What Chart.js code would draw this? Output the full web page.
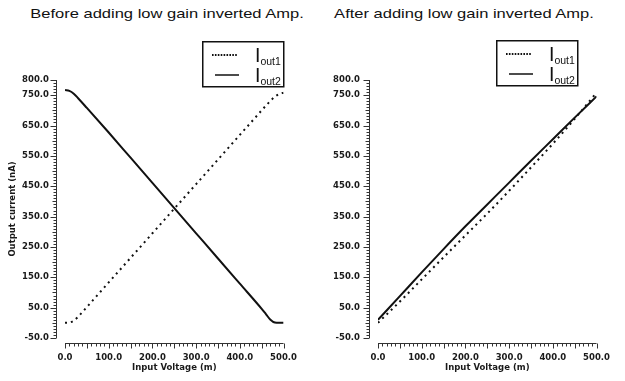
<!DOCTYPE html>
<html>
<head>
<meta charset="utf-8">
<script src="https://cdn.jsdelivr.net/npm/chart.js@4.4.1/dist/chart.umd.min.js"></script>
<style>
  body { margin: 0; width: 625px; height: 381px; overflow: hidden; background: #fff; position: relative; }
  canvas { position: absolute; top: 0; }
  #leftChart { left: 0; }
  #rightChart { left: 312px; }
  #axes { position: absolute; left: 0; top: 0; pointer-events: none; }
  .title {
    position: absolute; top: 7px; width: 320px; text-align: center;
    font-family: 'Liberation Sans', Arial, sans-serif; font-size: 13px; line-height: 13px;
    color: #111; transform: scaleX(1.27); white-space: nowrap;
  }
  .legend { position: absolute; }
  .legend text { font-family: 'Liberation Sans', Arial, sans-serif; fill: #111; }
</style>
</head>
<body>
<div class="title" style="left:7px">Before adding low gain inverted Amp.</div>
<div class="title" style="left:304px">After adding low gain inverted Amp.</div>
<canvas id="leftChart" width="312" height="381"></canvas>
<canvas id="rightChart" width="313" height="381"></canvas>
<svg id="axes" width="625" height="381" xmlns="http://www.w3.org/2000/svg"></svg>

<svg class="legend" style="left:202px;top:41px" width="84" height="48">
  <rect x="0.75" y="0.75" width="81" height="45" fill="#fff" stroke="#111" stroke-width="1.5"/>
  <line x1="10" y1="14" x2="36" y2="14" stroke="#111" stroke-width="1.8" stroke-dasharray="1.6 1.3"/>
  <line x1="13" y1="34" x2="37" y2="34" stroke="#111" stroke-width="1.5"/>
  <text x="53" y="21" font-size="19.5">I<tspan font-size="10.5" dy="2.5">out1</tspan></text>
  <text x="53" y="41" font-size="19.5">I<tspan font-size="10.5" dy="2.5">out2</tspan></text>
</svg>
<svg class="legend" style="left:496px;top:40px" width="84" height="48">
  <rect x="0.75" y="0.75" width="81" height="45" fill="#fff" stroke="#111" stroke-width="1.5"/>
  <line x1="10" y1="14" x2="36" y2="14" stroke="#111" stroke-width="1.8" stroke-dasharray="1.6 1.3"/>
  <line x1="13" y1="34" x2="37" y2="34" stroke="#111" stroke-width="1.5"/>
  <text x="53" y="21" font-size="19.5">I<tspan font-size="10.5" dy="2.5">out1</tspan></text>
  <text x="53" y="41" font-size="19.5">I<tspan font-size="10.5" dy="2.5">out2</tspan></text>
</svg>

<script>
// Input voltage (m) sample points
const voltsBefore = [0, 10, 20, 30, 50, 100, 150, 200, 250, 300, 350, 400, 450, 460, 470, 480, 490, 500];
// Before adding low gain inverted Amp. (nA)
const iout1Before = [0, 1, 7, 20, 52, 133, 214, 295, 376, 457, 538, 619, 700, 716, 731, 745, 754, 758];
const iout2Before = [767, 764, 755, 740, 708, 627, 544, 461, 378, 295, 212, 129, 46, 28, 10, 1, 0, 0];

const voltsAfter = [0, 50, 100, 150, 200, 250, 300, 350, 400, 450, 500];
// After adding low gain inverted Amp. (nA)
const iout1After = [0, 70, 143, 216, 288, 360, 435, 512, 590, 672, 758];
const iout2After = [10, 88, 166, 243, 318, 390, 462, 534, 605, 676, 746];

const yMin = -50;
const yMax = 800;
const xMin = 0;
const xMax = 500;

const tickFont = { family: 'DejaVu Sans', size: 8.5, weight: 'bold' };
const inkColor = '#1a1a1a';

function isLabelY(v) {
  return v === yMax || (v + 50) % 100 === 0;
}

function makeChart(canvasId, volts, iout1, iout2, opts) {
  const ctx = document.getElementById(canvasId).getContext('2d');
  return new Chart(ctx, {
    type: 'line',
    data: {
      datasets: [
        {
          label: 'Iout1',
          data: volts.map((v, i) => ({ x: v, y: iout1[i] })),
          borderColor: '#111',
          borderWidth: 2,
          borderDash: [2, 4],
          pointRadius: 0,
          cubicInterpolationMode: 'monotone',
        },
        {
          label: 'Iout2',
          data: volts.map((v, i) => ({ x: v, y: iout2[i] })),
          borderColor: '#111',
          borderWidth: 2,
          pointRadius: 0,
          cubicInterpolationMode: 'monotone',
        },
      ],
    },
    options: {
      responsive: false,
      animation: false,
      devicePixelRatio: 1,
      layout: {
        padding: { left: 0, right: opts.rightPad, top: 80, bottom: 7 },
      },
      plugins: {
        legend: { display: false },
        title: { display: false },
        tooltip: { enabled: false },
      },
      scales: {
        x: {
          type: 'linear',
          min: xMin,
          max: xMax,
          grid: { display: false, drawTicks: false },
          border: { display: false },
          afterFit: (scale) => { scale.height = 36; },
          ticks: {
            stepSize: 100,
            maxRotation: 0,
            padding: 15,
            color: inkColor,
            font: tickFont,
            callback: (v) => v.toFixed(1),
          },
          title: {
            display: true,
            text: 'Input Voltage (m)',
            color: inkColor,
            font: tickFont,
            padding: { top: 0, bottom: 1 },
          },
        },
        y: {
          type: 'linear',
          min: yMin,
          max: yMax,
          grid: { display: false, drawTicks: false },
          border: { display: false },
          afterFit: (scale) => { scale.width = opts.axisWidth; },
          ticks: {
            stepSize: 10,
            autoSkip: false,
            maxTicksLimit: 1000,
            padding: opts.labelPad,
            color: inkColor,
            font: tickFont,
            callback: (v) => (isLabelY(v) ? v.toFixed(1) : ''),
          },
          title: {
            display: opts.showYTitle,
            text: 'Output current (nA)',
            color: inkColor,
            font: tickFont,
            padding: { top: 8, bottom: 0 },
          },
        },
      },
    },
  });
}

// offset axis lines with major / minor ticks, built as svg paths from the chart scales
function drawAxes(chart, offsetX) {
  const area = chart.chartArea;
  const xs = chart.scales.x;
  const ys = chart.scales.y;
  let d = '';

  const ax = Math.round(area.left - 9 + offsetX) + 0.5;
  d += `M${ax} ${ys.getPixelForValue(yMin)}V${ys.getPixelForValue(yMax)}`;
  for (let v = yMin; v <= yMax; v += 10) {
    const p = Math.round(ys.getPixelForValue(v)) + 0.5;
    let len = 3;
    if (isLabelY(v)) len = 6;
    else if (v % 50 === 0) len = 4;
    d += `M${ax} ${p}h${-len}`;
  }

  const ay = Math.round(area.bottom + 5) + 0.5;
  d += `M${xs.getPixelForValue(xMin) + offsetX} ${ay}H${xs.getPixelForValue(xMax) + offsetX}`;
  for (let v = xMin; v <= xMax; v += 10) {
    const p = Math.round(xs.getPixelForValue(v) + offsetX) + 0.5;
    const len = v % 50 === 0 ? 5 : 3;
    d += `M${p} ${ay}v${len}`;
  }

  const path = document.createElementNS('http://www.w3.org/2000/svg', 'path');
  path.setAttribute('d', d);
  path.setAttribute('fill', 'none');
  path.setAttribute('stroke', '#333');
  path.setAttribute('stroke-width', '1');
  document.getElementById('axes').appendChild(path);
}

const leftChart = makeChart('leftChart', voltsBefore, iout1Before, iout2Before,
  { rightPad: 28, axisWidth: 65, labelPad: 16, showYTitle: true });
const rightChart = makeChart('rightChart', voltsAfter, iout1After, iout2After,
  { rightPad: 20, axisWidth: 66, labelPad: 18, showYTitle: false });

drawAxes(leftChart, 0);
drawAxes(rightChart, 312);
</script>
</body>
</html>
